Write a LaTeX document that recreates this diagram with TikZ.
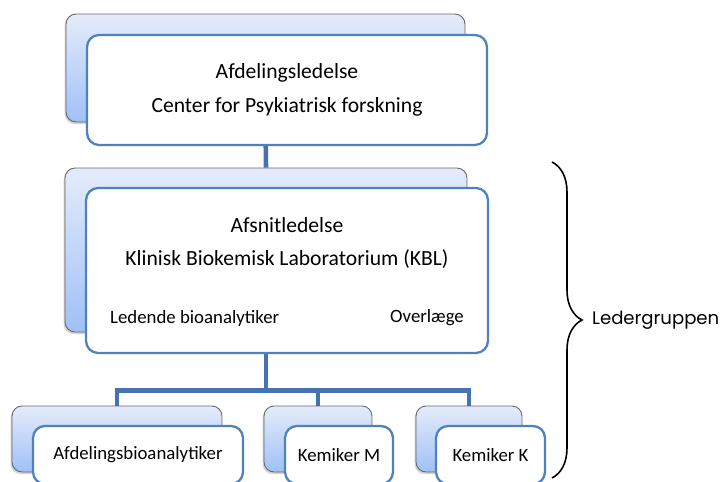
\documentclass[tikz,border=0pt]{standalone}
\usepackage{fontspec}
\setmainfont{Carlito}
\newfontfamily\bracefont{Poppins}
\usetikzlibrary{backgrounds,decorations.pathreplacing,shadows}

\definecolor{boxblue}{RGB}{79,129,189}
\definecolor{linkblue}{RGB}{70,115,175}
\definecolor{backtop}{RGB}{228,236,251}
\definecolor{backbot}{RGB}{160,192,246}

\tikzset{
  backbox/.style={draw=gray!80!black, line width=0.5pt, rounded corners=0.2cm,
    top color=backtop, bottom color=backbot, inner sep=0pt,
    drop shadow={shadow xshift=-0.8pt, shadow yshift=-1.2pt, opacity=0.35}},
  frontbox/.style={draw=boxblue, line width=1.3pt, fill=white, rounded corners=0.24cm,
    inner sep=0pt, align=center},
  bigtext/.style={font=\fontsize{12.3}{19}\selectfont, align=center},
  smalltext/.style={font=\fontsize{10.7}{12}\selectfont},
  link/.style={draw=linkblue, line width=2.6pt},
}

\begin{document}
\begin{tikzpicture}[x=0.02cm, y=-0.02cm]
    \useasboundingbox (0,0) rectangle (724,482);

    % Afdelingsledelse
    \node [backbox, minimum width=7.98cm, minimum height=2.16cm] (topback) at (265.5,68) {};
    \node [frontbox, bigtext, minimum width=8cm, minimum height=2.2cm] (top) at (287,90)
      {Afdelingsledelse\\Center for Psykiatrisk forskning};

    % Afsnitledelse (KBL)
    \node [backbox, minimum width=8.04cm, minimum height=3.28cm] (kblback) at (266,250) {};
    \node [frontbox, minimum width=8.04cm, minimum height=3.3cm] (kbl) at (287,270.5) {};
    \node [bigtext] (kbltext) at (287,243)
      {Afsnitledelse\\Klinisk Biokemisk Laboratorium (KBL)};
    \node [smalltext, anchor=west] (leder) at (104,318) {Ledende bioanalytiker};
    \node [smalltext, anchor=east] (overl) at (470,318) {Overlæge};

    % Afdelingsbioanalytiker
    \node [backbox, minimum width=4.2cm, minimum height=1.32cm] (afdback) at (117,439) {};
    \node [frontbox, smalltext, minimum width=4.2cm, minimum height=1.16cm] (afd) at (138,455)
      {Afdelingsbioanalytiker};

    % Kemiker M
    \node [backbox, minimum width=2.16cm, minimum height=1.32cm] (kmback) at (318,439) {};
    \node [frontbox, smalltext, minimum width=2.16cm, minimum height=1.16cm] (km) at (339,455)
      {Kemiker M};

    % Kemiker K
    \node [backbox, minimum width=2.12cm, minimum height=1.32cm] (kkback) at (469,439) {};
    \node [frontbox, smalltext, minimum width=2.18cm, minimum height=1.16cm] (kk) at (490.5,455)
      {Kemiker K};

    % forbindelser
    \begin{scope}[on background layer]
      \draw [link] (topback.south) -- (kblback.north);
      \draw [link] (kblback.south) -- ++(0,58) -| (afdback.north);
      \draw [link] (kblback.south) -- ++(0,58) -| (kmback.north);
      \draw [link] (kblback.south) -- ++(0,58) -| (kkback.north);
    \end{scope}

    % Ledergruppen
    \coordinate (bracetop) at (552,162);
    \coordinate (bracebot) at (552,478);
    \draw [line width=0.9pt, decorate, decoration={brace, amplitude=0.6cm}] (bracetop) -- (bracebot);
    \node [anchor=west, font=\bracefont\fontsize{10.3}{12}\selectfont] (ledergr) at (586,320) {Ledergruppen};

\end{tikzpicture}
\end{document}
